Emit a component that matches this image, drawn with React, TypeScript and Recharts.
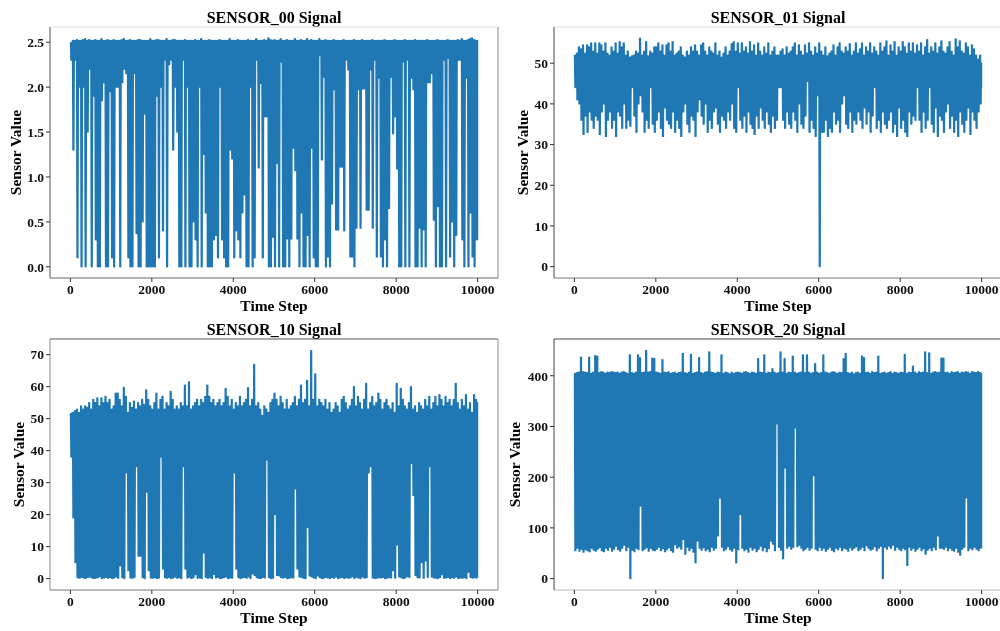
import { Line, LineChart, ReferenceLine, XAxis, YAxis } from "recharts";

const timeTicks = [0, 2000, 4000, 6000, 8000, 10000];

// each signal is read as a high/low pair per 50 time steps
const sensor00Highs = [
  2.5, 2.52, 2.52, 2.53, 2.52, 2.52, 2.53, 2.54, 2.52, 2.53, 2.52, 2.52, 2.53, 2.52, 2.52, 2.54, 2.52, 2.52, 2.53, 2.52,
  2.52, 2.53, 2.52, 2.52, 2.52, 2.53, 2.54, 2.52, 2.52, 2.53, 2.52, 2.52, 2.52, 2.53, 2.53, 2.52, 2.52, 2.52, 2.52, 2.54,
  2.52, 2.52, 2.53, 2.53, 2.52, 2.52, 2.52, 2.54, 2.52, 2.52, 2.53, 2.53, 2.52, 2.52, 2.52, 2.52, 2.53, 2.52, 2.52, 2.52,
  2.52, 2.53, 2.52, 2.52, 2.54, 2.52, 2.52, 2.52, 2.53, 2.52, 2.52, 2.52, 2.52, 2.53, 2.52, 2.52, 2.52, 2.52, 2.54, 2.52,
  2.52, 2.52, 2.53, 2.52, 2.52, 2.52, 2.52, 2.53, 2.52, 2.52, 2.52, 2.54, 2.52, 2.52, 2.52, 2.53, 2.52, 2.55, 2.53, 2.52,
  2.53, 2.52, 2.52, 2.54, 2.52, 2.52, 2.53, 2.52, 2.52, 2.52, 2.54, 2.52, 2.52, 2.53, 2.52, 2.52, 2.54, 2.52, 2.53, 2.52,
  2.52, 2.52, 2.54, 2.52, 2.52, 2.53, 2.52, 2.52, 2.52, 2.53, 2.52, 2.52, 2.52, 2.52, 2.53, 2.52, 2.52, 2.52, 2.52, 2.53,
  2.52, 2.52, 2.52, 2.53, 2.52, 2.52, 2.52, 2.52, 2.53, 2.52, 2.52, 2.52, 2.52, 2.52, 2.53, 2.52, 2.52, 2.52, 2.52, 2.53,
  2.52, 2.52, 2.52, 2.52, 2.53, 2.52, 2.52, 2.52, 2.52, 2.53, 2.52, 2.52, 2.52, 2.52, 2.52, 2.53, 2.52, 2.52, 2.52, 2.52,
  2.53, 2.52, 2.52, 2.52, 2.52, 2.53, 2.52, 2.52, 2.52, 2.52, 2.53, 2.52, 2.54, 2.52, 2.52, 2.53, 2.54, 2.55, 2.53, 2.52,
  2.52,
];
const sensor00Lows = [
  2.3, 1.3, 2.3, 0.1, 2.0, 0, 2.0, 0, 1.5, 2.2, 0, 1.9, 0.3, 0, 0, 1.85, 2.05, 0, 0, 1.95,
  0.1, 0, 2.0, 2.0, 0, 2.05, 2.2, 2.15, 0.1, 0, 0, 2.15, 0.37, 0, 0, 0.5, 1.7, 0, 0, 0,
  0, 0, 1.9, 0.1, 2.0, 0.4, 2.3, 0, 2.25, 2.3, 1.3, 2.0, 1.5, 0, 0, 2.3, 0, 2.0, 0, 0,
  0.5, 0.3, 0, 2.0, 0, 1.25, 0.6, 0, 0, 0, 0.3, 0.35, 0.1, 2.0, 0.3, 0.1, 0, 0, 1.3, 1.2,
  0.1, 0.4, 0.3, 0.1, 0.6, 0.8, 0, 0, 2.0, 0, 0.1, 2.3, 1.1, 2.04, 0.1, 1.67, 1.67, 0, 0, 0.33,
  0, 1.15, 0, 2.28, 0, 0, 0.31, 0, 0.31, 1.32, 1.07, 0.31, 0, 0.6, 0, 0, 0.35, 0, 1.32, 0.1,
  0, 0, 2.35, 1.19, 2.11, 0, 0.11, 0, 0.7, 1.97, 0.41, 0.41, 1.11, 1.11, 0.4, 2.3, 2.19, 0.11, 0.11, 0,
  0.43, 1.97, 0.43, 1.98, 1.98, 0.63, 0.63, 2.19, 0.43, 2.3, 0.11, 2.1, 0.11, 0, 0.3, 0, 0.65, 2.11, 1.48, 1.67,
  1.09, 0, 0, 2.28, 0, 2.3, 0, 2.1, 1.97, 0, 0, 0.43, 0, 0.41, 0, 2.05, 2.05, 2.15, 0.52, 0,
  0.67, 0, 0, 2.3, 0, 2.32, 0.11, 0.5, 0, 0.35, 2.3, 2.3, 0.3, 0, 2.1, 0, 0.6, 0.11, 0, 0.3,
  0.3,
];

const sensor01Highs = [
  52, 52.5, 54, 53.5, 54.5, 52.5, 54.5, 54, 55, 53, 55, 52.5, 55, 54.5, 53, 55, 52.5, 52, 54, 53,
  55, 52.5, 55.3, 54, 55, 52, 53, 51.5, 51.8, 52, 53, 52.5, 56.2, 52, 53, 55.3, 51.8, 53, 52.5, 54,
  54, 55, 53, 54.5, 52, 54.5, 55, 53, 55.3, 52, 52.5, 53, 54, 52, 51.5, 53, 52, 54, 53, 54.5,
  53, 52, 54.5, 55, 53, 52, 54, 53, 52.5, 55, 52, 53, 51.5, 52.5, 54, 52, 53, 54.8, 55.3, 53,
  55, 52.5, 55, 53, 54, 52.5, 55.3, 53, 54.5, 52, 55, 53, 52, 54, 52.5, 55, 52, 53, 54, 52,
  52, 53, 53.5, 52, 54, 52.5, 53, 54, 55, 52, 54.5, 53, 52, 54.5, 52.5, 55, 53, 52, 54, 52.5,
  55, 53, 52, 54, 51.8, 52.5, 53, 54.5, 52, 54, 55, 53, 52.5, 54, 53, 54.8, 52, 53, 55, 52.5,
  53.5, 55, 52, 54, 53, 55, 52.5, 54, 53, 52, 55, 53, 54, 55.5, 52, 54.5, 53, 55.3, 52, 54,
  53, 55.3, 54, 52.5, 55, 53, 55, 52.5, 54.5, 53, 55, 52, 54, 55.8, 52.5, 54, 53, 55, 52.5, 54,
  55.5, 53, 52.5, 54, 55.3, 53, 52, 56, 54, 55.5, 53, 52.5, 55, 54, 52, 54.5, 53.5, 52, 51, 52,
  50,
];
const sensor01Lows = [
  44, 41, 40, 36, 32.5, 37, 33, 38, 36, 34, 37, 36, 32.5, 38, 40, 32, 36, 38, 34, 36,
  32, 38, 37, 34, 40, 34, 36, 34.5, 44, 37, 33, 40, 42, 38, 33, 36, 34, 44, 35, 33,
  36, 38, 34, 32, 39, 36, 35, 34, 38, 33, 36, 34, 32, 38, 40, 35, 33, 37, 36, 32,
  38, 41, 37, 35, 40, 33, 36, 34, 38, 39, 35, 33, 37, 36, 34, 38, 36, 40, 34, 33,
  44, 36, 34, 37, 33, 38, 35, 34, 32.5, 37, 34, 39, 36, 34, 38, 35, 33, 37, 34, 36,
  44, 44, 36, 34, 38, 35, 34, 38, 36, 33, 40, 35, 34, 37, 45.5, 33, 36, 34, 32, 42,
  0, 33, 33, 36, 32, 34, 33, 38, 35, 36, 33, 40, 42, 35, 34, 38, 33, 36, 35, 38,
  36, 34, 39, 35, 38, 33, 37, 44, 34, 36, 33, 38, 35, 34, 36, 38, 33, 35, 32, 39,
  34, 36, 33, 32, 38, 35, 37, 36, 44, 36, 33, 38, 34, 36, 44, 35, 33, 39, 32, 37,
  36, 33, 38, 40, 34, 37, 33, 36, 32, 38, 35, 33, 36, 39, 32.5, 38, 36, 34, 38, 40,
  44,
];

const sensor10Highs = [
  51.7, 52, 52.5, 53, 52, 54, 53, 54, 53.5, 55, 53, 56, 55, 56.5, 54, 56.5, 55, 57, 55, 56,
  53, 54, 58, 58, 56, 54, 59.8, 57, 52, 55, 53.5, 55.5, 53, 55, 54, 56, 54.5, 59, 56, 54,
  53, 55, 58, 53, 56, 57, 53, 55, 54, 58.5, 56, 53, 54, 53, 55, 54, 60.5, 54, 61.5, 53,
  54, 55, 56, 54, 56, 55, 57, 60.5, 57, 55, 56, 54, 55, 56, 54, 55, 59.5, 57, 54, 56,
  53, 55, 54, 57, 54, 55, 56, 59.7, 54, 56, 67, 54, 55, 53, 51, 54, 53, 52, 55, 56,
  58, 56, 54, 57, 55, 53, 56, 53, 54, 55, 57, 54, 56, 60.5, 55, 56, 62, 54, 71.3, 56,
  64, 54, 56, 55, 54, 56, 53, 55, 52, 53, 55, 54, 52, 56, 57, 55, 53, 54, 56, 60,
  54, 57, 55, 53, 56, 61, 53, 55, 57, 54, 55, 58, 56, 53, 55, 56, 54, 53, 55, 52,
  61, 54, 59.5, 56, 54, 53, 55, 60, 53, 54, 52, 55, 54, 53, 56, 54, 57, 53, 55, 57,
  54, 57.5, 56, 54, 57, 55, 56, 54, 56, 61, 55, 53, 56, 54, 57.5, 53, 55, 52, 57.5, 56,
  55,
];
const sensor10Lows = [
  38, 19, 5, 0.3, 0.1, 0.4, 0.2, 0, 0.3, 0.5, 0.2, 0, 0.1, 0.3, 0.6, 0, 0.2, 0.4, 0.1, 0.3,
  0, 0.2, 0.5, 0.1, 4, 0.3, 0, 33, 2.5, 0.2, 0.1, 0.4, 35, 7, 7, 0.3, 0, 27, 2.5, 0.2,
  0.1, 0.3, 0, 0.2, 38, 3, 0.3, 0.1, 0.4, 0, 0.2, 0.5, 0.1, 0.3, 0, 35, 3, 0.2, 0.4, 0,
  0.3, 1.2, 0.1, 0.2, 0, 8, 0.4, 0.1, 0.3, 0, 1.3, 0.2, 0.4, 0, 0.1, 0.3, 0.5, 0, 0.2, 0.1,
  33, 3, 0.3, 0, 0.2, 0.4, 0.1, 0.5, 0, 1.5, 1, 0.3, 0.1, 0, 0.4, 0.2, 37, 0.3, 0, 0.1,
  20, 1, 0.8, 0.3, 0.2, 0.4, 0, 0.1, 0.3, 0.2, 28, 3, 0.5, 0.4, 0.1, 0, 16, 0.8, 0.5, 0.2,
  0, 0.8, 0.3, 0, 0.1, 0.4, 0.2, 0, 0.3, 0.1, 0.5, 0, 0.2, 0.4, 0, 0.3, 0.1, 0.2, 0.6, 0,
  0.4, 0.2, 0, 0.5, 0.1, 0.3, 33, 35, 0.2, 0, 0.1, 0.3, 0.2, 0.4, 0, 0.1, 0.3, 0.2, 2.5, 0.1,
  10.5, 0.5, 0.3, 0, 0.2, 0.6, 0.4, 36, 26, 1, 0.3, 0.2, 5, 0.1, 5.5, 0.4, 35, 0.5, 0.2, 0.1,
  0, 0.3, 1.2, 0.1, 0.2, 0.4, 0, 0.3, 0.1, 0.5, 0, 0.2, 0.1, 0.3, 0, 2, 0.4, 0.1, 0.3, 0.2,
  0.3,
];

const sensor20Highs = [
  405, 406, 407, 437, 408, 407, 406, 437, 405, 407, 440, 439, 406, 408, 407, 405, 407, 406, 408, 407,
  406, 407, 405, 407, 408, 406, 405, 441, 406, 405, 407, 441, 436, 406, 407, 450, 407, 408, 435, 434,
  407, 406, 405, 432, 407, 406, 408, 405, 406, 407, 405, 406, 407, 444, 406, 405, 407, 442, 405, 406,
  407, 436, 406, 405, 407, 408, 447, 407, 406, 405, 407, 406, 441, 405, 407, 406, 404, 407, 405, 406,
  407, 406, 405, 407, 408, 406, 405, 407, 406, 405, 434, 407, 406, 441, 405, 407, 406, 414, 407, 405,
  406, 447, 407, 434, 405, 407, 406, 439, 407, 405, 406, 407, 441, 406, 441, 407, 405, 406, 424, 407,
  405, 406, 441, 407, 406, 405, 407, 408, 406, 405, 407, 406, 434, 444, 406, 405, 407, 404, 406, 407,
  405, 439, 436, 406, 407, 405, 408, 406, 407, 439, 405, 406, 407, 405, 406, 408, 405, 407, 406, 405,
  407, 406, 442, 405, 407, 406, 419, 407, 405, 408, 406, 407, 447, 406, 445, 405, 407, 408, 406, 407,
  435, 435, 406, 407, 405, 408, 406, 407, 408, 405, 407, 406, 408, 407, 405, 408, 407, 406, 408, 406,
  405,
];
const sensor20Lows = [
  55, 60, 54, 58, 52, 57, 55, 53, 60, 56, 54, 58, 61, 55, 53, 60, 56, 62, 54, 58,
  64, 57, 54, 60, 66, 55, 62, 0, 56, 53, 60, 57, 143, 55, 58, 61, 54, 60, 56, 55,
  58, 62, 55, 59, 53, 57, 61, 55, 52, 67, 60, 63, 58, 77, 48, 62, 55, 60, 52, 31,
  74, 60, 56, 61, 55, 58, 53, 62, 56, 60, 84, 159, 62, 55, 58, 63, 57, 54, 60, 31,
  57, 126, 60, 55, 58, 52, 62, 56, 60, 53, 58, 64, 55, 61, 53, 59, 74, 68, 55, 305,
  62, 56, 39, 218, 60, 64, 58, 62, 297, 63, 66, 60, 55, 58, 62, 56, 60, 203, 58, 55,
  62, 56, 60, 54, 58, 62, 56, 53, 60, 57, 62, 55, 60, 58, 54, 61, 56, 60, 63, 55,
  58, 62, 55, 65, 60, 56, 58, 63, 55, 60, 64, 0, 62, 58, 64, 60, 66, 56, 62, 58,
  55, 60, 57, 26, 62, 56, 60, 54, 58, 62, 55, 59, 48, 56, 60, 55, 62, 57, 84, 60,
  60, 58, 62, 55, 60, 56, 54, 60, 52, 46, 58, 62, 159, 55, 60, 57, 62, 58, 55, 60,
  60,
];

const sensor00Ticks = [0, 0.5, 1, 1.5, 2, 2.5];
const sensor01Ticks = [0, 10, 20, 30, 40, 50];
const sensor10Ticks = [0, 10, 20, 30, 40, 50, 60, 70];
const sensor20Ticks = [0, 100, 200, 300, 400];

const xDomain: [number, number] = [-500, 10500];
const serif = "'Liberation Serif', serif";
const axisText = { fontFamily: serif, fontWeight: 700, fontSize: 13.5, fill: "#111" };
const labelText = { fontFamily: serif, fontWeight: 700, fontSize: 15.5, fill: "#000" };

// the raw signal swings between the pair twice per column, that is what makes the band solid
function zigzag(highs: number[], lows: number[]) {
  return highs.flatMap((h, i) => {
    const t = i * 50;
    if (i === highs.length - 1) return [{ t, v: h }, { t, v: lows[i] }];
    return [
      { t, v: h },
      { t: t + 12.5, v: lows[i] },
      { t: t + 25, v: h },
      { t: t + 37.5, v: lows[i] },
    ];
  });
}

type PanelProps = {
  name: string;
  left: number;
  top: number;
  highs: number[];
  lows: number[];
  yDomain: [number, number];
  yTicks: number[];
  labelShift: number;
  decimals?: number;
  frame: { top: string; right: string; bottom: string; left: string };
};

function SensorPanel({ name, left, top, highs, lows, yDomain, yTicks, labelShift, decimals, frame }: PanelProps) {
  return (
    <div style={{ position: "absolute", left, top, width: 500, height: 315 }}>
      <div
        style={{
          position: "absolute",
          left: 50,
          width: 448,
          top: 9,
          textAlign: "center",
          fontFamily: serif,
          fontWeight: 700,
          fontSize: 16,
          lineHeight: "18px",
          color: "#000",
        }}
      >
        {name} Signal
      </div>
      <LineChart width={500} height={315} data={zigzag(highs, lows)} margin={{ top: 27, right: 2, bottom: 0, left: 0 }}>
        <XAxis
          dataKey="t"
          type="number"
          domain={xDomain}
          ticks={timeTicks}
          interval={0}
          height={37}
          tickSize={4}
          tick={axisText}
          stroke={frame.bottom}
          tickLine={{ stroke: "#333" }}
          label={{ value: "Time Step", position: "insideBottom", offset: 4, style: labelText }}
        />
        <YAxis
          type="number"
          domain={yDomain}
          ticks={yTicks}
          interval={0}
          width={50}
          tickSize={4}
          tick={axisText}
          stroke={frame.left}
          tickLine={{ stroke: "#333" }}
          tickFormatter={(v: number) => (decimals ? v.toFixed(decimals) : String(v))}
          label={{ value: "Sensor Value", angle: -90, position: "center", dx: labelShift, style: labelText }}
        />
        <ReferenceLine y={yDomain[1]} stroke={frame.top} />
        <ReferenceLine x={xDomain[1]} stroke={frame.right} />
        <Line dataKey="v" stroke="#1f77b4" strokeWidth={1.2} strokeLinejoin="round" dot={false} isAnimationActive={false} />
      </LineChart>
    </div>
  );
}

export default function App() {
  return (
    <div
      style={{
        position: "absolute",
        left: 0,
        top: 0,
        width: 1000,
        height: 631,
        overflow: "hidden",
        background: "#fff",
        filter: "blur(0.4px)",
      }}
    >
      <SensorPanel
        name="SENSOR_00"
        left={0}
        top={0}
        highs={sensor00Highs}
        lows={sensor00Lows}
        yDomain={[-0.125, 2.67]}
        yTicks={sensor00Ticks}
        labelShift={-10}
        decimals={1}
        frame={{ top: "#ddd", right: "#888", bottom: "#666", left: "#555" }}
      />
      <SensorPanel
        name="SENSOR_01"
        left={504}
        top={0}
        highs={sensor01Highs}
        lows={sensor01Lows}
        yDomain={[-2.8, 58.9]}
        yTicks={sensor01Ticks}
        labelShift={-7}
        frame={{ top: "#ddd", right: "#888", bottom: "#777", left: "#444" }}
      />
      <SensorPanel
        name="SENSOR_10"
        left={0}
        top={312}
        highs={sensor10Highs}
        lows={sensor10Lows}
        yDomain={[-3.57, 74.9]}
        yTicks={sensor10Ticks}
        labelShift={-7}
        frame={{ top: "#555", right: "#888", bottom: "#777", left: "#888" }}
      />
      <SensorPanel
        name="SENSOR_20"
        left={504}
        top={312}
        highs={sensor20Highs}
        lows={sensor20Lows}
        yDomain={[-22.5, 472.5]}
        yTicks={sensor20Ticks}
        labelShift={-15}
        frame={{ top: "#444", right: "#888", bottom: "#bbb", left: "#444" }}
      />
    </div>
  );
}
